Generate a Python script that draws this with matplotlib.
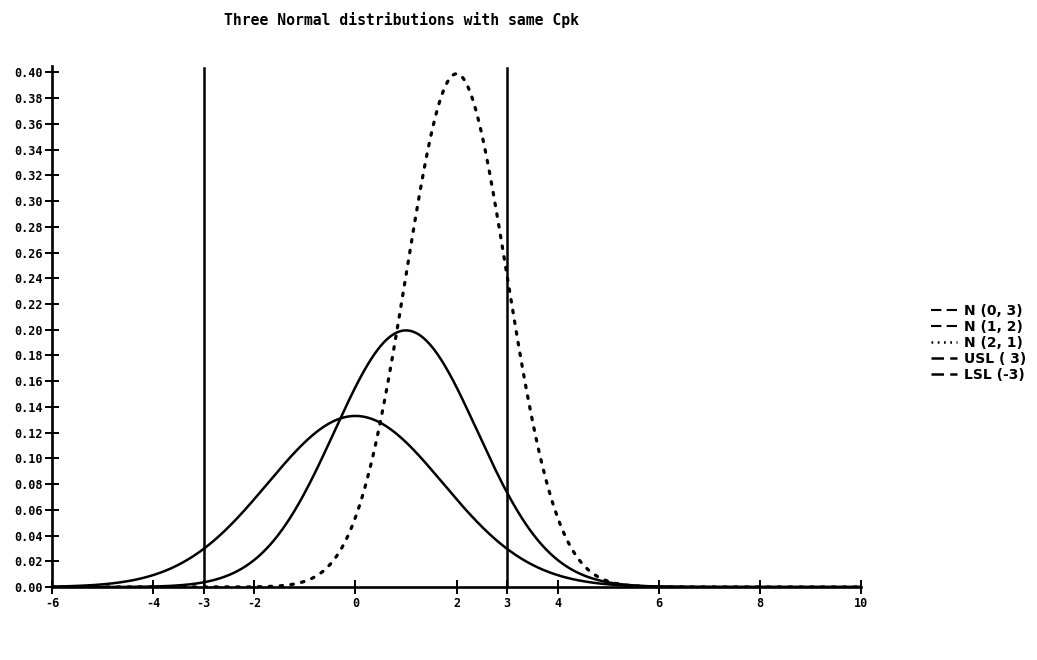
"""
Three Normal distributions with same Cpk (USL = 3, LSL = -3)
"""
import numpy as np
import matplotlib
matplotlib.use("Agg")
import matplotlib.pyplot as plt
from matplotlib.lines import Line2D

# ── data ───────────────────────────────────────────────────────────────────
# second parameter is used by the original program both as scale of the
# peak and as variance of the shape, which is what the picture shows
means = [0, 1, 2]
params = [3, 2, 1]
labels = ["N (0, 3)", "N (1, 2)", "N (2, 1)"]
spec_values = [3, -3]
spec_labels = ["USL ( 3)", "LSL (-3)"]
xticks = [-6, -4, -3, -2, 0, 2, 3, 4, 6, 8, 10]
yticks = [round(0.02 * i, 2) for i in range(21)]

x = np.linspace(-6, 10, 1200)

fig = plt.figure(figsize=(10.37, 6.6), dpi=100)
ax = fig.add_axes([52 / 1037, 73 / 660, 809 / 1037, 521 / 660])

styles = ["-", "-", (0, (0.8, 2.6))]
for m, p, ls in zip(means, params, styles):
    y = np.exp(-0.5 * (x - m) ** 2 / p) / (p * np.sqrt(2 * np.pi))
    lw = 2.3 if ls != "-" else 1.8
    ax.plot(x, y, color="black", lw=lw, linestyle=ls,
            dash_capstyle="round", solid_capstyle="butt")

for v in spec_values:
    ax.axvline(v, color="black", lw=1.8, ymax=0.997)

ax.set_xlim(-6, 10)
ax.set_ylim(0, 0.405)
ax.set_xticks(xticks)
ax.set_xticklabels([str(t) for t in xticks])
ax.set_yticks(yticks)
ax.set_yticklabels([f"{t:.2f}" for t in yticks])
for sp in ["top", "right"]:
    ax.spines[sp].set_visible(False)
for sp in ["left", "bottom"]:
    ax.spines[sp].set_linewidth(1.9)
ax.tick_params(direction="inout", length=10, width=1.4, pad=2)
for lab in ax.get_xticklabels() + ax.get_yticklabels():
    lab.set_fontfamily("DejaVu Sans Mono")
    lab.set_fontweight("bold")
    lab.set_fontsize(8.5)

fig.text(402 / 1037, 1 - 20 / 660, "Three Normal distributions with same Cpk",
         ha="center", va="center", family="DejaVu Sans Mono", fontsize=10.6,
         fontweight="bold")

# legend: solid series are drawn as long dashes, as in the original plotter key
handles = [
    Line2D([], [], color="black", lw=1.5, dashes=(5, 2.5)),
    Line2D([], [], color="black", lw=1.5, dashes=(5, 2.5)),
    Line2D([], [], color="black", lw=1.8, dashes=(0.7, 1.8)),
    Line2D([], [], color="black", lw=1.8, dashes=(5, 2.5)),
    Line2D([], [], color="black", lw=1.8, dashes=(5, 2.5)),
]
leg = fig.legend(handles, labels + spec_labels, loc="center left",
                 bbox_to_anchor=(925 / 1037, 1 - 343 / 660), frameon=False,
                 borderaxespad=0, handlelength=1.9, handletextpad=0.5,
                 labelspacing=0.15,
                 prop={"family": "DejaVu Sans", "weight": "bold", "size": 10})

fig.savefig("out.png", dpi=100)
